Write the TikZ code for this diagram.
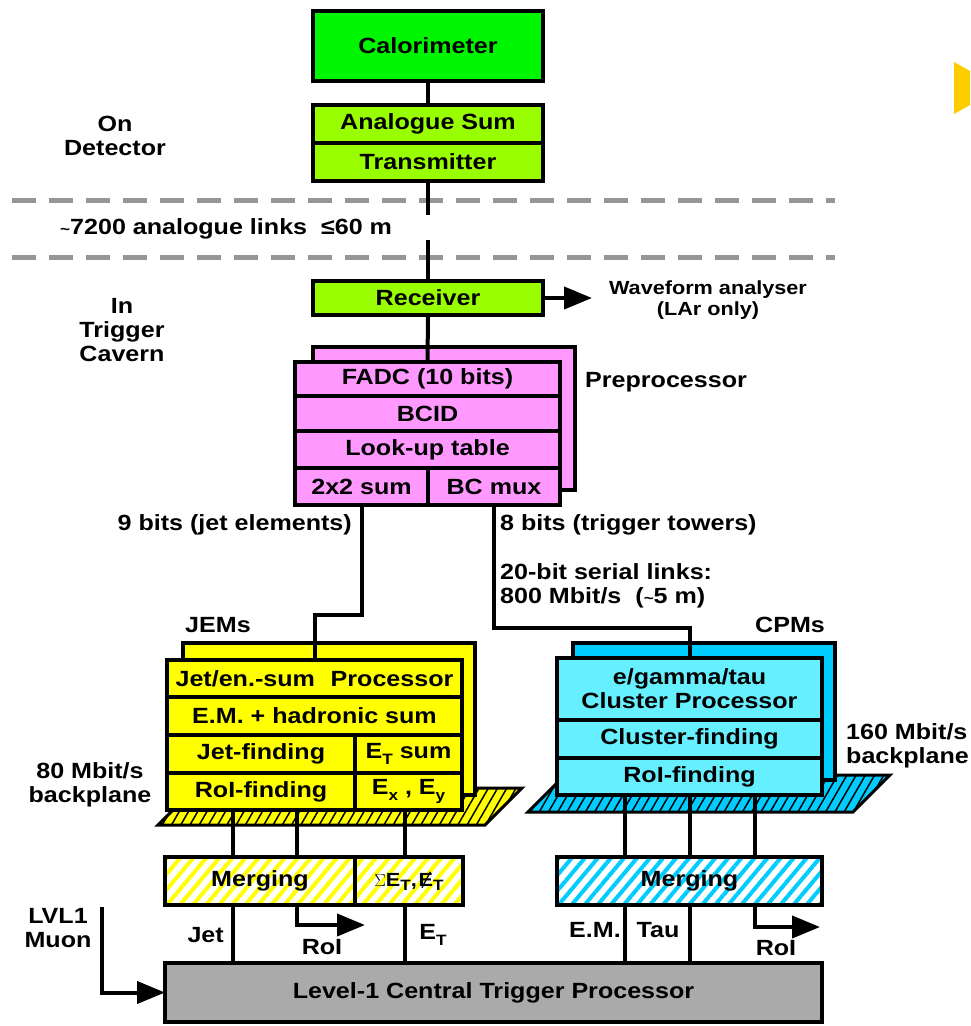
\documentclass[tikz,border=0pt]{standalone}
\usepackage{fontspec}
\setmainfont{Liberation Sans}[FakeStretch=1.14]
\usetikzlibrary{arrows.meta,patterns.meta}
\definecolor{calgreen}{RGB}{0,245,0}
\definecolor{rxgreen}{RGB}{153,255,0}
\definecolor{ppmpink}{RGB}{255,153,255}
\definecolor{jemyellow}{RGB}{255,255,0}
\definecolor{cpmcyan}{RGB}{102,240,255}
\definecolor{cpmblue}{RGB}{0,204,255}
\definecolor{ctpgray}{RGB}{170,170,170}
\definecolor{cutgray}{RGB}{150,150,150}
\definecolor{slidegold}{RGB}{255,204,0}
\newcommand\lab{\fontsize{22}{24}\selectfont\bfseries}
\newcommand\sml{\fontsize{19}{21}\selectfont\bfseries}
\newcommand\lowsub[1]{\raisebox{-0.45ex}{\fontsize{15}{15}\selectfont #1}}
\newcommand\etmiss{\rlap{\hspace{0.14em}\raisebox{-0.1em}{\rotatebox{62}{\rule{0.95em}{1.3pt}}}}E}
\newcommand\tld{{\fontsize{15}{15}\selectfont\textasciitilde}}
\begin{document}
\begin{tikzpicture}[x=1pt,y=-1pt,
    box/.style={draw,line width=4.5pt,inner sep=0pt,outer sep=0pt,font=\lab},
    link/.style={line width=4pt},
    tip/.style={-{Triangle[length=28pt,width=22pt]}},
    txt/.style={font=\lab,align=center,inner sep=0pt}]
  \useasboundingbox (0,0) rectangle (970,1026);
  \fill[slidegold] (954,62) -- (970,71) -- (970,105) -- (954,114) -- cycle;

  % on detector
  \node[box,fill=calgreen,minimum width=230pt,minimum height=70pt] (calo) at (428,46) {Calorimeter};
  \node[box,fill=rxgreen,minimum width=230pt,minimum height=38pt] (asum) at (428,124) {Analogue Sum};
  \node[box,fill=rxgreen,minimum width=230pt,minimum height=38pt] (trans) at (428,162) {Transmitter};
  \node[txt] (ondet) at (115,136) {On\\Detector};

  % cable region
  \foreach \y in {200,257} {
      \draw[cutgray,line width=5pt,dash pattern=on 24pt off 13pt] (12,\y) -- (835,\y);
  }
  \node[txt,anchor=west] (links) at (60,229) {\tld7200 analogue links\ \ ≤60 m};
  \coordinate (cabtop) at (428,215);
  \coordinate (cabbot) at (428,240);

  % trigger cavern
  \node[box,fill=rxgreen,minimum width=230pt,minimum height=34pt] (recv) at (428,298) {Receiver};
  \node[txt,font=\sml] (wave) at (708,300) {Waveform analyser\\(LAr only)};
  \coordinate (wavetip) at (592,298);
  \node[txt] (cavern) at (122,330) {In\\Trigger\\Cavern};

  % preprocessor
  \node[box,fill=ppmpink,minimum width=262pt,minimum height=143pt] (ppmback) at (444,418.5) {};
  \node[box,fill=ppmpink,minimum width=265pt,minimum height=34pt] (fadc) at (427.5,379) {FADC (10 bits)};
  \node[box,fill=ppmpink,minimum width=265pt,minimum height=35pt] (bcid) at (427.5,413.5) {BCID};
  \node[box,fill=ppmpink,minimum width=265pt,minimum height=37pt] (lut) at (427.5,449.5) {Look-up table};
  \node[box,fill=ppmpink,minimum width=133pt,minimum height=37pt] (sum22) at (361.5,486.5) {2x2 sum};
  \node[box,fill=ppmpink,minimum width=132pt,minimum height=37pt] (bcmux) at (494,486.5) {BC mux};
  \node[txt,anchor=west] (ppmlab) at (585,382) {Preprocessor};
  \node[txt,anchor=east] (jetbits) at (352,525) {9 bits (jet elements)};
  \node[txt,anchor=west] (ttbits) at (500,525) {8 bits (trigger towers)};
  \node[txt,anchor=north west,align=left] (serial) at (500,563) {20-bit serial links:\\800 Mbit/s\ \ (\tld5 m)};

  % jet/energy modules
  \draw[line width=3pt,fill=jemyellow,postaction={pattern={Lines[angle=60,distance=8pt,line width=1.5pt]}}]
      (158,825) -- (485,825) -- (522,788) -- (195,788) -- cycle;
  \node[box,fill=jemyellow,minimum width=292pt,minimum height=152pt] (jemback) at (329,719) {};
  \node[box,fill=jemyellow,minimum width=295pt,minimum height=37pt] (jetproc) at (314.5,678.5) {Jet/en.-sum\hspace{0.4em} Processor};
  \node[box,fill=jemyellow,minimum width=295pt,minimum height=38pt] (emhad) at (314.5,716) {E.M. + hadronic sum};
  \node[box,fill=jemyellow,minimum width=188pt,minimum height=38pt] (jetfind) at (261,754) {Jet-finding};
  \node[box,fill=jemyellow,minimum width=107pt,minimum height=38pt] (etsum) at (408.5,754) {E\lowsub{T} sum};
  \node[box,fill=jemyellow,minimum width=188pt,minimum height=37pt] (jroifind) at (261,791.5) {RoI-finding};
  \node[box,fill=jemyellow,minimum width=107pt,minimum height=37pt] (exey) at (408.5,791.5) {E\lowsub{x} , E\lowsub{y}};
  \node[txt] (jems) at (218,625) {JEMs};
  \node[txt] (jemplane) at (90,785) {80 Mbit/s\\backplane};

  % cluster processor modules
  \draw[line width=3pt,fill=cpmblue,postaction={pattern={Lines[angle=60,distance=8pt,line width=1.5pt]}}]
      (528,812) -- (853,812) -- (890,775) -- (565,775) -- cycle;
  \node[box,fill=cpmblue,minimum width=262pt,minimum height=137pt] (cpmback) at (704,711.5) {};
  \node[box,fill=cpmcyan,minimum width=265pt,minimum height=62pt,align=center] (egamma) at (689.5,689) {e/gamma/tau\\Cluster Processor};
  \node[box,fill=cpmcyan,minimum width=265pt,minimum height=38pt] (clfind) at (689.5,739) {Cluster-finding};
  \node[box,fill=cpmcyan,minimum width=265pt,minimum height=37pt] (croifind) at (689.5,776.5) {RoI-finding};
  \node[txt] (cpms) at (790,625) {CPMs};
  \node[txt,anchor=west,align=left] (cpmplane) at (846,746) {160 Mbit/s\\backplane};

  % merging and CTP
  \node[box,minimum width=190pt,minimum height=48pt,pattern={Lines[angle=50,distance=10pt,line width=4pt]},pattern color=jemyellow] (jmerge) at (260,881) {Merging};
  \node[box,minimum width=108pt,minimum height=48pt,pattern={Lines[angle=50,distance=10pt,line width=4pt]},pattern color=jemyellow,
        font=\fontsize{19}{21}\selectfont\bfseries] (etmerge) at (409,881) {$\Sigma$E\lowsub{T},\hspace{0.1em}\etmiss\lowsub{T}};
  \node[box,minimum width=265pt,minimum height=48pt,pattern={Lines[angle=50,distance=10pt,line width=4pt]},pattern color=cpmblue] (cmerge) at (689.5,881) {Merging};
  \node[box,fill=ctpgray,minimum width=657pt,minimum height=59pt] (ctp) at (493.5,992.5) {Level-1 Central Trigger Processor};
  \node[txt] (muonlab) at (58,928) {LVL1\\Muon};
  \coordinate (muon) at (102,907);
  \coordinate (jroi) at (365,925);
  \coordinate (croi) at (820,927);
  \node[txt,anchor=east] (jetlab) at (224,935) {Jet};
  \node[txt] (jroilab) at (322,947) {RoI};
  \node[txt] (etlab) at (433,935) {E\lowsub{T}};
  \node[txt,anchor=east] (emlab) at (621,930) {E.M.};
  \node[txt] (taulab) at (658,930) {Tau};
  \node[txt] (croilab) at (776,948) {RoI};

  % links
  \draw[link] (calo) -- (asum);
  \draw[link] (trans) -- (cabtop);
  \draw[link] (cabbot) -- (recv);
  \draw[link,tip] (recv.east) -- (wavetip);
  \draw[link] (recv) -- (fadc);
  \draw[link] (sum22.south) -- ++(0,110) -| (jetproc.north);
  \draw[link] (bcmux.south) -- ++(0,123) -| (egamma.north);
  \foreach \x in {233,297} {
      \draw[link] (jroifind.south -| \x,0) -- (jmerge.north -| \x,0);
  }
  \draw[link] (exey.south -| 405,0) -- (etmerge.north -| 405,0);
  \foreach \x in {625,690,755} {
      \draw[link] (croifind.south -| \x,0) -- (cmerge.north -| \x,0);
  }
  \draw[link] (jmerge.south -| 233,0) -- (ctp.north -| 233,0);
  \draw[link,tip] (jmerge.south -| 297,0) |- (jroi);
  \draw[link] (etmerge.south -| 405,0) -- (ctp.north -| 405,0);
  \draw[link] (cmerge.south -| 625,0) -- (ctp.north -| 625,0);
  \draw[link] (cmerge.south -| 690,0) -- (ctp.north -| 690,0);
  \draw[link,tip] (cmerge.south -| 755,0) |- (croi);
  \draw[link,tip] (muon) |- (ctp.west);
\end{tikzpicture}
\end{document}
